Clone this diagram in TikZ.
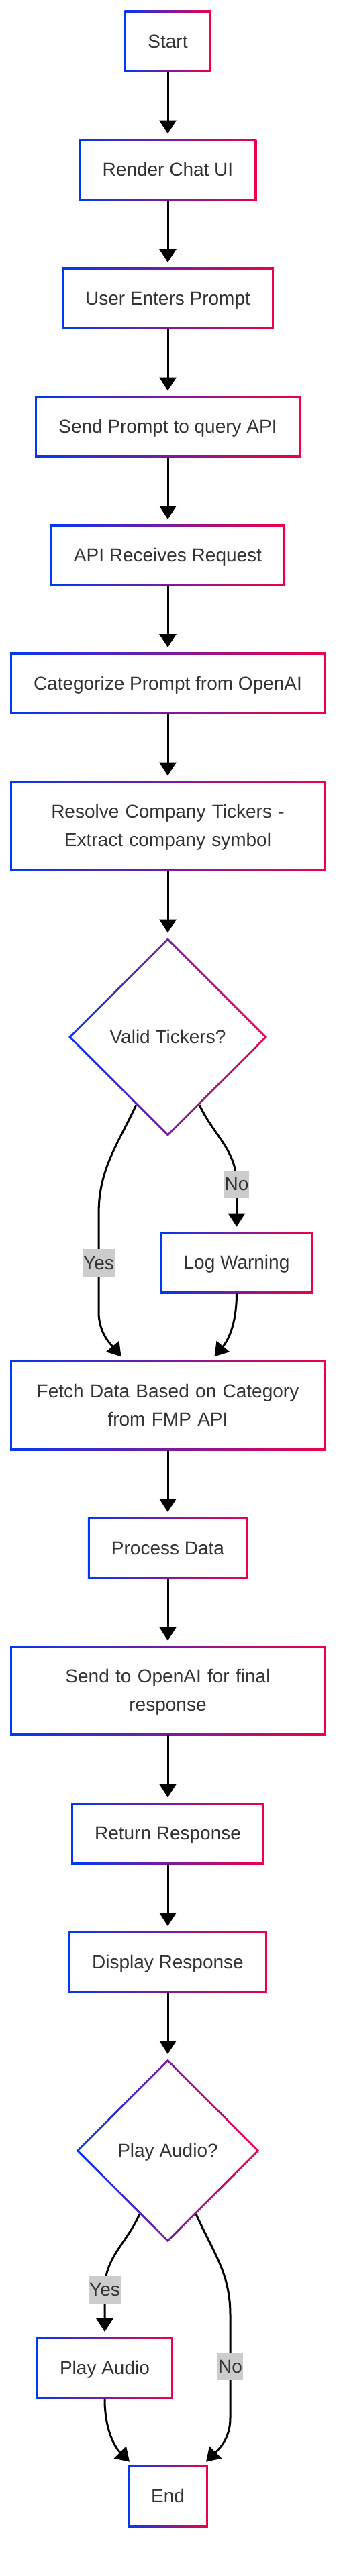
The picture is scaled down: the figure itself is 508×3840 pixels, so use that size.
\documentclass[tikz,border=0pt]{standalone}
\usepackage{fontspec}
\setmainfont{Liberation Sans}
\usetikzlibrary{arrows.meta,shapes.geometric}
\definecolor{gblue}{HTML}{0038F5}
\definecolor{gred}{HTML}{F00048}
\definecolor{txtgray}{HTML}{333333}
\newcommand{\lnstrut}{\rule[-3pt]{0pt}{15.7pt}}

\begin{document}
\begin{tikzpicture}[x=0.5pt,y=-0.5pt,
  >={Triangle[width=12.5pt,length=10pt]},
  every node/.style={font=\fontsize{14pt}{21pt}\selectfont, text=txtgray},
  proc/.style={rectangle, inner xsep=17.5pt, inner ysep=15.15pt,
    left color=gblue, right color=gred,
    execute at begin node=\lnstrut, execute at end node=\lnstrut,
    path picture={\fill[white] ([shift={(1.5pt,1.5pt)}]path picture bounding box.south west)
      rectangle ([shift={(-1.5pt,-1.5pt)}]path picture bounding box.north east);}},
  wproc/.style={proc, text width=200pt, align=center},
  decide/.style={diamond, aspect=1, inner sep=0pt,
    left color=gblue, right color=gred,
    execute at begin node=\lnstrut, execute at end node=\lnstrut,
    path picture={\fill[white] ([xshift=2.1pt]path picture bounding box.west)
      -- ([yshift=-2.1pt]path picture bounding box.north)
      -- ([xshift=-2.1pt]path picture bounding box.east)
      -- ([yshift=2.1pt]path picture bounding box.south) -- cycle;}},
  lbl/.style={fill=black!20, inner xsep=0.5pt, inner ysep=2.4pt,
    execute at begin node=\lnstrut},
  flow/.style={->, line width=1.5pt, shorten >=3.5pt}]
  \useasboundingbox[fill=white] (0,0) rectangle (508,3840);
  %% main column
  \node[proc] at (250,61.5) (ST) {Start};
  \node[proc] at (250,253) (RUI) {Render Chat UI};
  \node[proc] at (250,444.5) (UEP) {User Enters Prompt};
  \node[proc] at (250,636) (SPQ) {Send Prompt to query API};
  \node[proc] at (250,827.5) (ARR) {API Receives Request};
  \node[proc] at (250,1018.5) (CAT) {Categorize Prompt from OpenAI};
  \node[wproc] at (250,1231) (RCT) {Resolve Company Tickers -\\Extract company symbol};
  \node[decide, minimum size=148pt] at (250,1546) (VT) {Valid Tickers?};
  \node[proc] at (352.5,1882) (LW) {Log Warning};
  \node[wproc] at (250,2095) (FD) {Fetch Data Based on Category\\from FMP API};
  \node[proc] at (250,2307.5) (PD) {Process Data};
  \node[wproc] at (250,2520) (SOA) {Send to OpenAI for final\\response};
  \node[proc] at (250,2733) (RR) {Return Response};
  \node[proc] at (250,2924.5) (DR) {Display Response};
  \node[decide, minimum size=136.5pt] at (250,3206) (PA) {Play Audio?};
  \node[proc] at (156,3529.5) (PLAY) {Play Audio};
  \node[proc] at (250,3721) (END) {End};
  \draw[flow] (ST) -- (RUI);
  \draw[flow] (RUI) -- (UEP);
  \draw[flow] (UEP) -- (SPQ);
  \draw[flow] (SPQ) -- (ARR);
  \draw[flow] (ARR) -- (CAT);
  \draw[flow] (CAT) -- (RCT);
  \draw[flow] (RCT) -- (VT);
  %% tickers branch
  \coordinate (YA) at (147,1810);
  \coordinate (YB) at (147,1955);
  \draw[flow] (VT.245) to[out=-115,in=90] (YA) -- node[lbl]{Yes} (YB)
    to[out=-90,in=130] ([xshift=-32.5pt]FD.north);
  \coordinate (NA) at (352.5,1765);
  \draw[flow] (VT.295) to[out=-65,in=90] (NA) node[lbl]{No} -- (LW);
  \draw[flow] (LW) to[out=-90,in=50] ([xshift=32.5pt]FD.north);
  \draw[flow] (FD) -- (PD);
  \draw[flow] (PD) -- (SOA);
  \draw[flow] (SOA) -- (RR);
  \draw[flow] (RR) -- (DR);
  \draw[flow] (DR) -- (PA);
  %% audio branch
  \coordinate (PY) at (156,3413);
  \draw[flow] (PA.246) to[out=-114,in=90] (PY) node[lbl]{Yes} -- (PLAY);
  \coordinate (PN1) at (343,3450);
  \coordinate (PN2) at (343,3605);
  \draw[flow] (PA.294) to[out=-66,in=90] (PN1) -- node[lbl]{No} (PN2)
    to[out=-90,in=45] ([xshift=26pt]END.north);
  \draw[flow] (PLAY) to[out=-90,in=135] ([xshift=-26pt]END.north);
\end{tikzpicture}
\end{document}
